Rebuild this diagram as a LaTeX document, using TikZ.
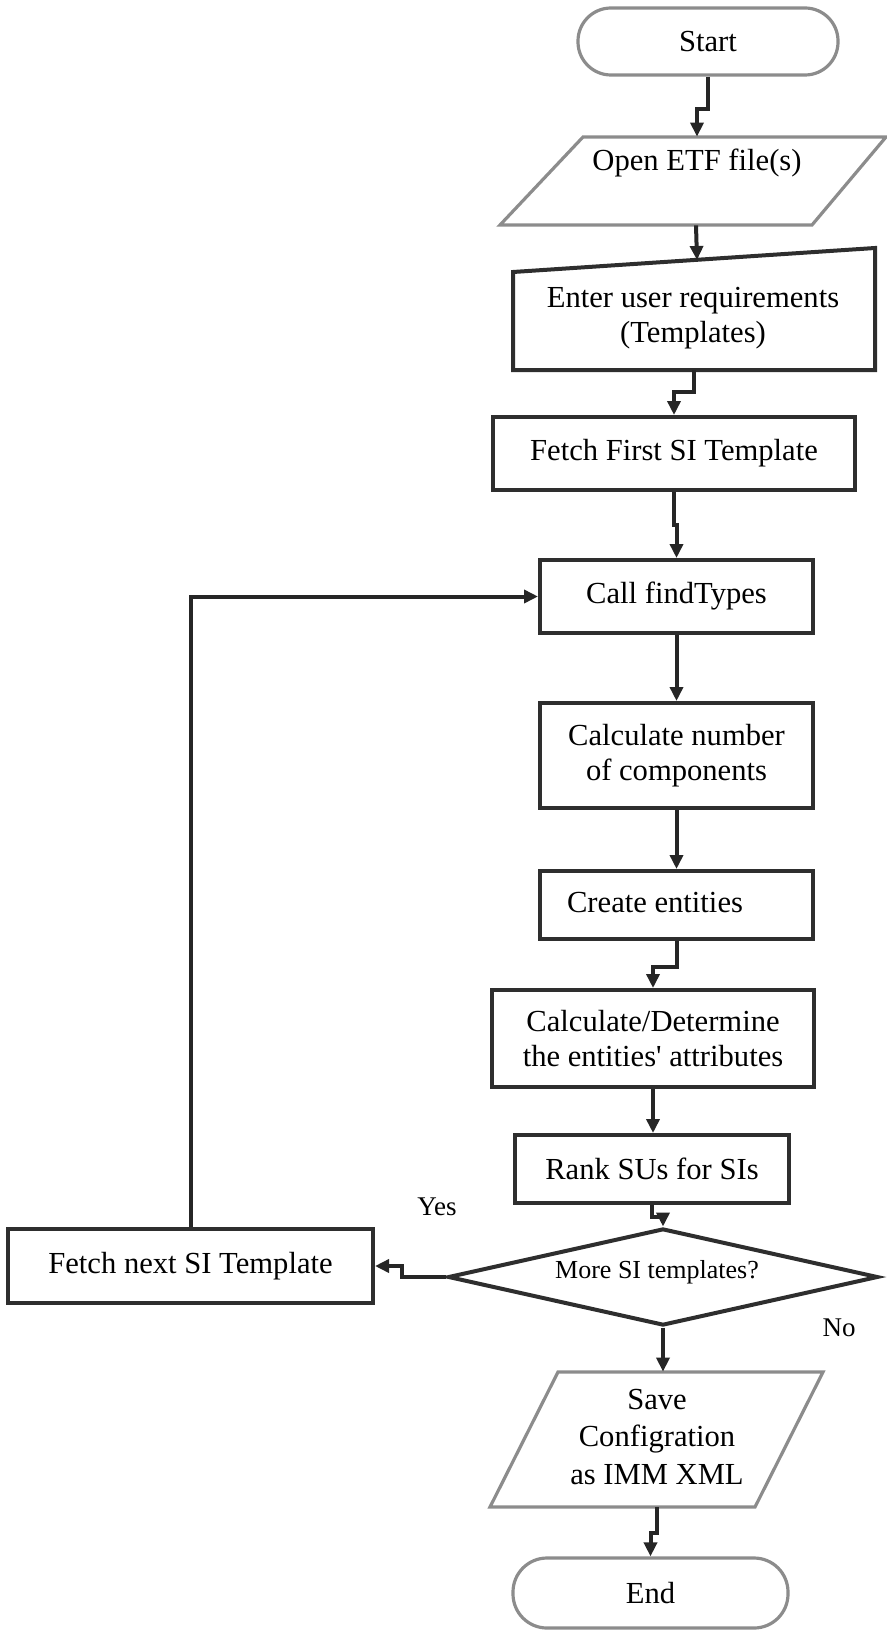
\documentclass[tikz,border=0pt]{standalone}
\usepackage{fontspec}
\setmainfont{Liberation Serif}[Ligatures=TeXOff]
\usetikzlibrary{arrows.meta,shapes.geometric}
\begin{document}
\begin{tikzpicture}[x=0.5pt,y=-0.5pt,
  box/.style={draw=black!82, line width=2pt, inner sep=0pt},
  term/.style={draw=black!45, line width=1.6pt, inner sep=0pt},
  outl/.style={draw=black!45, line width=1.6pt, line join=miter},
  boxl/.style={draw=black!82, line width=2pt, line join=miter},
  shapeonly/.style={inner sep=0pt, draw=none},
  txt/.style={font=\fontsize{15.3}{17.8}\selectfont, align=center, inner sep=0pt},
  small/.style={font=\fontsize{13}{15}\selectfont, inner sep=0pt},
  lbl/.style={font=\fontsize{13.5}{16}\selectfont, inner sep=0pt},
  arr/.style={draw=black!85, line width=2pt, -{Triangle[length=7pt,width=6.5pt]}},
]
\useasboundingbox (0,0) rectangle (887,1637);

% Start
\node[term, txt, rounded corners=16.5pt, minimum width=130pt, minimum height=33.5pt] (start) at (708,41.5) {Start};

% Open ETF file(s)
\draw[outl] (583,137) -- (886,137) -- (812,225) -- (500,225) -- cycle;
\node[shapeonly, minimum width=193pt, minimum height=44pt] (etf) at (693,181) {};
\node[txt] (etftext) at (697,163) {Open ETF file(s)};

% Enter user requirements (manual input)
\draw[boxl] (513,272) -- (875,248) -- (875,370) -- (513,370) -- cycle;
\node[shapeonly, minimum width=181pt, minimum height=61pt] (enter) at (694,309) {};
\node[txt] (entertext) at (693,318) {Enter user requirements\\(Templates)};
\coordinate (entertop) at (697,260);

\node[box, txt, minimum width=181pt, minimum height=36.5pt] (fetch1) at (674,453.5) {Fetch First SI Template};
\node[box, txt, minimum width=136.5pt, minimum height=36.5pt] (call) at (676.5,596.5) {Call findTypes};
\node[box, txt, minimum width=136.5pt, minimum height=52.5pt] (calc) at (676.5,755.5) {Calculate number\\of components};
\node[box, minimum width=136.5pt, minimum height=34pt] (create) at (676.5,905) {};
\node[txt] (createtext) at (655,903) {Create entities};
\node[box, txt, minimum width=161pt, minimum height=48.5pt] (calcdet) at (653,1038.5) {Calculate/Determine\\the entities' attributes};
\node[box, txt, minimum width=137pt, minimum height=34pt] (rank) at (652,1169) {Rank SUs for SIs};

% Decision
\node[draw=black!82, line width=2pt, diamond, minimum width=215pt, minimum height=48.5pt, inner sep=0pt] (more) at (663,1277) {};
\node[small] (moretext) at (657,1272) {More SI templates?};

\node[box, txt, minimum width=182.5pt, minimum height=37pt] (fetchn) at (190.5,1266) {Fetch next SI Template};

% Save
\draw[outl] (558,1372) -- (823,1372) -- (755,1507) -- (490,1507) -- cycle;
\node[shapeonly, minimum width=166.5pt, minimum height=67.5pt] (save) at (656.5,1439.5) {};
\node[txt, font=\fontsize{15.3}{18.5}\selectfont] (savetext) at (657,1437) {Save\\Configration\\as IMM XML};

% End
\node[term, txt, rounded corners=17pt, minimum width=137.5pt, minimum height=35pt] (end) at (650.5,1593) {End};

% Labels
\node[lbl] (yes) at (437,1207) {Yes};
\node[lbl] (no) at (839,1328) {No};

% Connectors
\draw[arr] (start.south) -- ++(0,32) -| ([xshift=2pt]etf.north);
\draw[arr] ([xshift=1.5pt]etf.south) -- (entertop);
\draw[arr] (enter.south) -- ++(0,22) -| (fetch1.north);
\draw[arr] (fetch1.south) -- ++(0,33) -| (call.north);
\draw[arr] (call.south) -- (calc.north);
\draw[arr] (calc.south) -- (create.north);
\draw[arr] (create.south) -- ++(0,26) -| (calcdet.north);
\draw[arr] (calcdet.south) -- (calcdet.south |- rank.north);
\draw[arr] (rank.south) -- ++(0,12) -| (more.north);
\draw[arr] (more.south) -- (more.south |- save.north);
\draw[arr] (save.south) -- ++(0,26) -| (end.north);
\draw[arr] (more.west) -- ++(-44,0) |- (fetchn.east);
\draw[arr] (fetchn.north) |- (call.west);
\end{tikzpicture}
\end{document}
